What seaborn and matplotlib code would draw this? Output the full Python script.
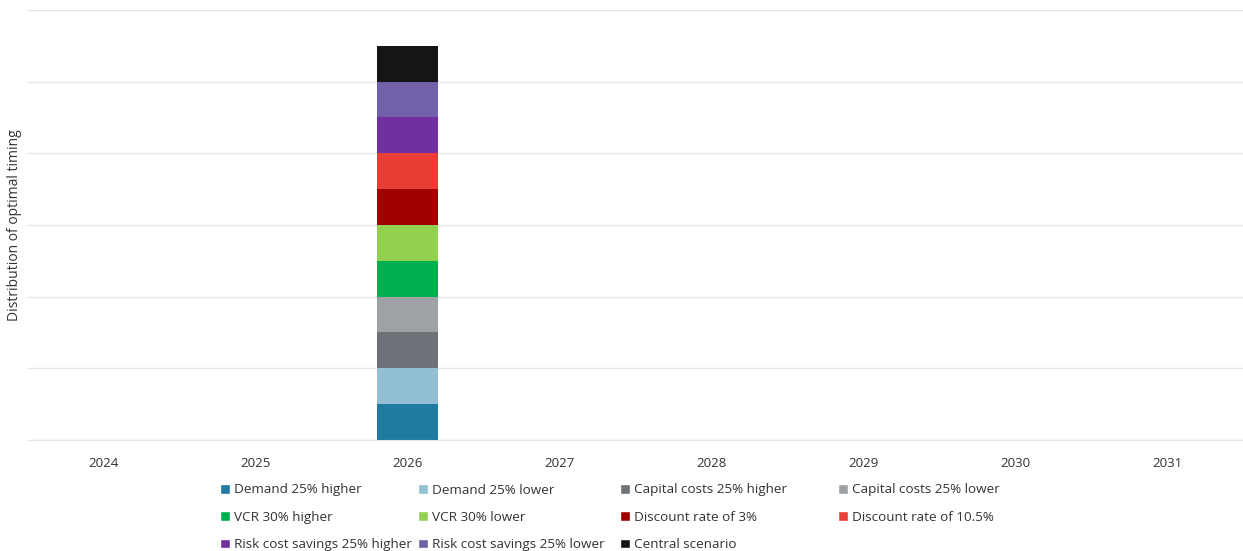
import pandas as pd
import numpy as np
import matplotlib.pyplot as plt
import seaborn as sns
from matplotlib.patches import Patch

# data
years = [2024, 2025, 2026, 2027, 2028, 2029, 2030, 2031]
scenarios = ['Demand 25% higher', 'Demand 25% lower', 'Capital costs 25% higher',
             'Capital costs 25% lower', 'VCR 30% higher', 'VCR 30% lower',
             'Discount rate of 3%', 'Discount rate of 10.5%',
             'Risk cost savings 25% higher', 'Risk cost savings 25% lower',
             'Central scenario']
optimal_year = [2026, 2026, 2026, 2026, 2026, 2026, 2026, 2026, 2026, 2026, 2026]
counts = [1, 1, 1, 1, 1, 1, 1, 1, 1, 1, 1]
colors = ['#1f7ba0', '#92bfd3', '#6c7278', '#9ea2a5', '#00b04f', '#92d050',
          '#a00000', '#e83e35', '#7030a0', '#7360aa', '#141517']

df = pd.DataFrame({'Year': optimal_year, 'Scenario': scenarios, 'Count': counts})

sns.set_style('white')
plt.rcParams['font.family'] = ['Open Sans', 'DejaVu Sans']

W, H = 1243, 551
fig = plt.figure(figsize=(W / 100, H / 100), dpi=100)
ax = fig.add_axes([0.022, 0.2015, 0.978, 0.7804])

# histplot stacks the first hue level on top, so pass the order reversed
sns.histplot(data=df, x='Year', weights='Count', hue='Scenario', hue_order=scenarios[::-1],
             palette=dict(zip(scenarios, colors)), multiple='stack', discrete=True,
             shrink=0.4, alpha=1, linewidth=0, legend=False, ax=ax)

ax.set_xlim(years[0] - 0.5, years[-1] + 0.5)
ax.set_ylim(0, 12)
ax.set_xticks(years)
ax.set_xticklabels([str(y) for y in years], fontsize=9.5, color='#333333')
ax.set_yticks(np.arange(0, 13, 2))
ax.set_yticklabels([])
ax.tick_params(axis='both', length=0, pad=12)
ax.grid(axis='y', color='#e6e6e6', linewidth=1)
ax.set_axisbelow(True)
for s in ['top', 'right', 'left']:
    ax.spines[s].set_visible(False)
ax.spines['bottom'].set_color('#e6e6e6')
ax.set_xlabel('')
ax.set_ylabel('Distribution of optimal timing', fontsize=10, color='#333333')
ax.yaxis.set_label_coords(-0.004, 0.5)

# legend: 4 columns filled row by row, columns at uneven x positions like the original
handles = [Patch(facecolor=c, label=s) for s, c in zip(scenarios, colors)]
col_x = [220, 418, 620, 838]
for j, x in enumerate(col_x):
    leg = fig.legend(handles=handles[j::4], loc='upper left',
                     bbox_to_anchor=(x / W, 1 - 483.5 / H), frameon=False, fontsize=9.7,
                     borderpad=0, borderaxespad=0, handlelength=0.72, handleheight=0.72,
                     handletextpad=0.35, labelspacing=1.07, labelcolor='#333333')

plt.savefig('out.png', dpi=100)
